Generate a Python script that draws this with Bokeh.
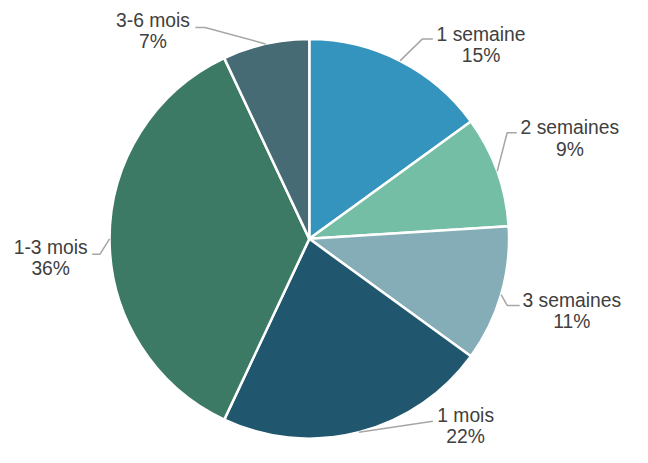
import math
from bokeh.plotting import figure
from bokeh.models import Range1d
from bokeh.embed import file_html
from bokeh.resources import INLINE
from bokeh.core.properties import value

# Data
categories = ["1 semaine", "2 semaines", "3 semaines", "1 mois", "1-3 mois", "3-6 mois"]
shares = [15, 9, 11, 22, 36, 7]
colors = ["#3594BD", "#75BEA6", "#84ADB7", "#20576E", "#3C7A66", "#466B75"]

# Layout (reference pixel coordinates, scaled to fit the figure)
PW, PH = 632, 447
S = 0.965
XMAX, YMAX = PW / S, PH / S
CX, CY, R = 320, 247, 207
label_pos = [(498, 35), (590, 132), (592, 311), (482, 430), (52, 256), (158, 21)]
elbows = [[(437, 40), (448, 40)],
          [(525, 137), (535, 137)],
          [(525, 316), (538, 316)],
          [(448, 436)],
          [(103, 263), (95, 263)],
          [(212, 28), (202, 28)]]

def fy(py):
    return YMAX - py

p = figure(width=PW, height=PH, output_backend="svg", toolbar_location=None,
           x_range=Range1d(0, XMAX), y_range=Range1d(0, YMAX), min_border=0)
p.axis.visible = False
p.grid.visible = False
p.outline_line_color = None
p.background_fill_color = "white"

fs = f"{20 * S:.1f}px"
total = sum(shares)
cum = 0
for i, (cat, v, c) in enumerate(zip(categories, shares, colors)):
    a0 = math.pi / 2 - 2 * math.pi * cum / total
    a1 = math.pi / 2 - 2 * math.pi * (cum + v) / total
    mid = (cum + v / 2) / total * 2 * math.pi
    cum += v
    p.wedge(x=CX, y=fy(CY), radius=R, start_angle=a0, end_angle=a1, direction="clock",
            fill_color=c, line_color="white", line_width=2.5)
    ex = CX + R * math.sin(mid)
    ey = CY - R * math.cos(mid)
    xs = [ex] + [e[0] for e in elbows[i]]
    ys = [fy(ey)] + [fy(e[1]) for e in elbows[i]]
    p.line(xs, ys, line_color="#A6A6A6", line_width=1.5)
    lx, ly = label_pos[i]
    p.text(x=[lx], y=[fy(ly)], text=[cat], text_align="center", text_baseline="middle",
           text_font=value("Liberation Sans"), text_font_size=fs, text_color="#404040")
    p.text(x=[lx], y=[fy(ly + 22)], text=[f"{round(100 * v / total)}%"], text_align="center",
           text_baseline="middle", text_font=value("Liberation Sans"), text_font_size=fs,
           text_color="#404040")

open("out.html", "w").write(file_html(p, INLINE))
